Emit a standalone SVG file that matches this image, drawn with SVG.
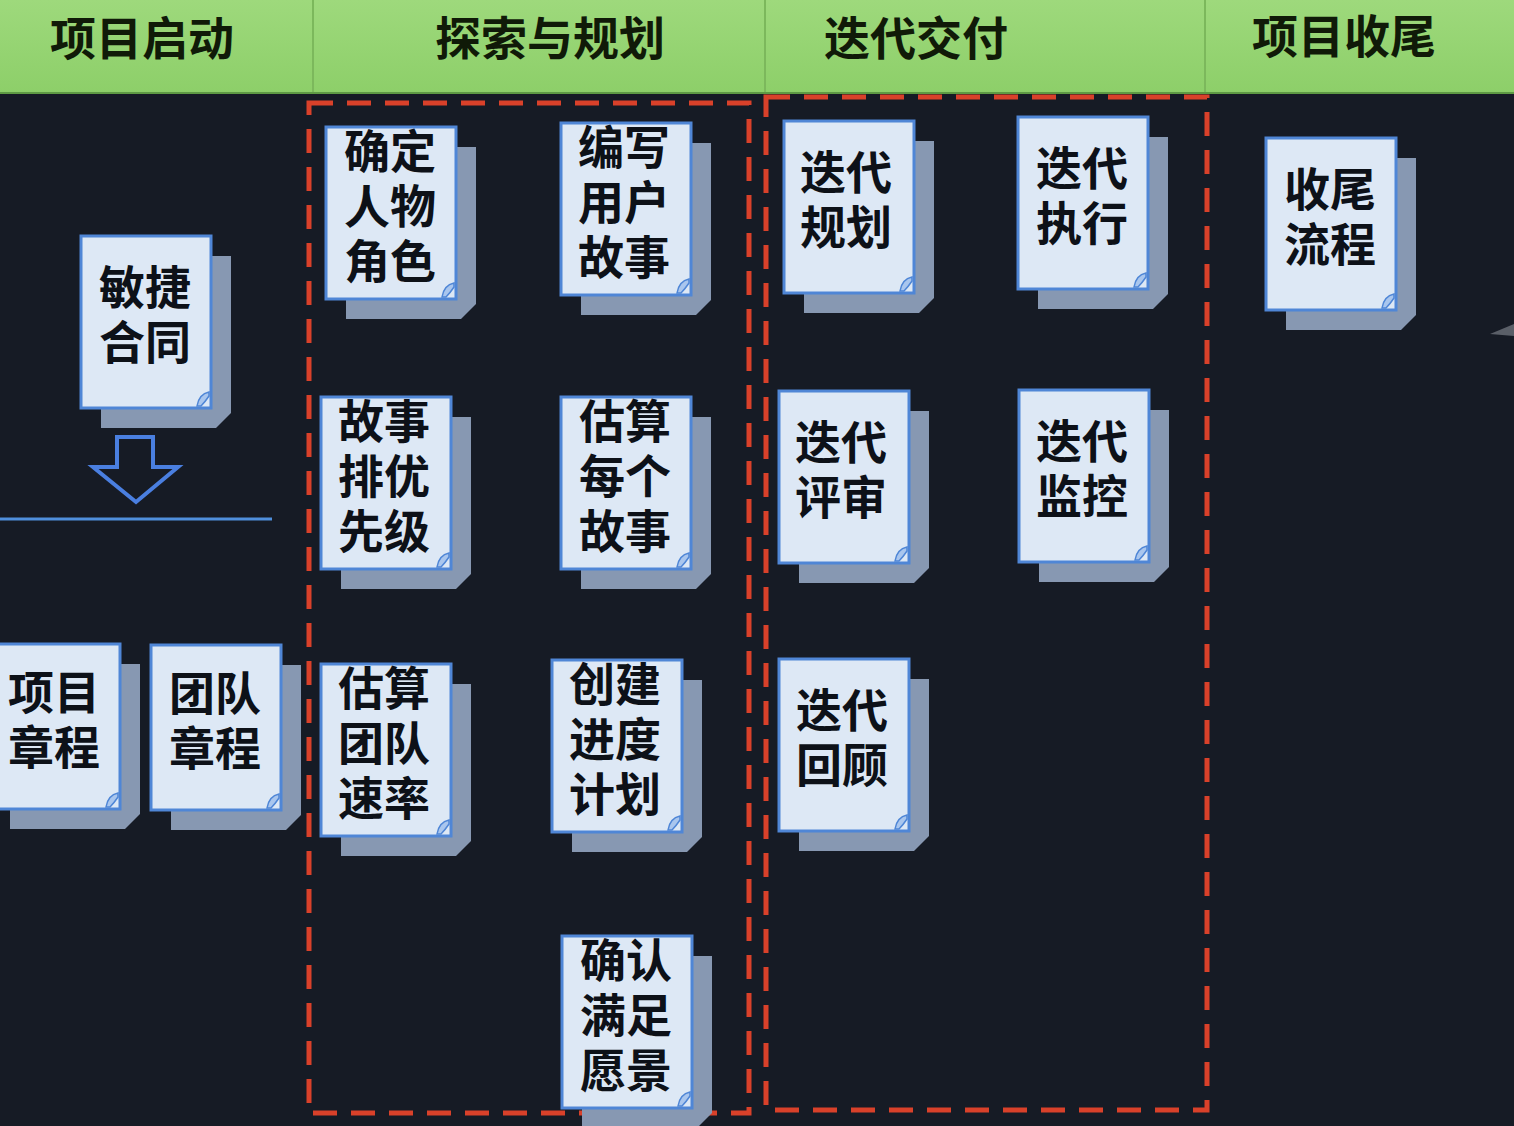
<svg xmlns="http://www.w3.org/2000/svg" xmlns:xlink="http://www.w3.org/1999/xlink" width="1514" height="1126" viewBox="0 0 1514 1126">
<style>
.hdr{font-family:"Noto Sans CJK SC","Noto Sans",sans-serif;font-weight:700;font-size:46px;fill:#101a08;text-anchor:middle}
.t{font-family:"Noto Sans CJK SC","Noto Sans",sans-serif;font-weight:700;font-size:46px;fill:#0d1118;text-anchor:middle}
.dash{fill:none;stroke:#d9412a;stroke-width:5;stroke-dasharray:24 14}
.div{stroke:#7cb85c;stroke-width:2}
</style>
<defs>
<linearGradient id="hg" x1="0" y1="0" x2="0" y2="1">
<stop offset="0" stop-color="#9ed97c"/>
<stop offset="1" stop-color="#8dcf69"/>
</linearGradient>
<g id="card">
<path d="M20 20H150V177L135 192H20Z" fill="#8798b2"/>
<rect x="0" y="0" width="130" height="172" fill="#dde8f5" stroke="#4f86d6" stroke-width="3"/>
<path d="M116 170Q118 158 128 156L128 160Q124 166 120 170Z" fill="#a9c6ee" stroke="#4f86d6" stroke-width="1.5"/>
</g>
<g id="card2">
<path d="M20 20H150V170L135 185H20Z" fill="#8798b2"/>
<rect x="0" y="0" width="130" height="165" fill="#dde8f5" stroke="#4f86d6" stroke-width="3"/>
<path d="M116 163Q118 151 128 149L128 153Q124 159 120 163Z" fill="#a9c6ee" stroke="#4f86d6" stroke-width="1.5"/>
</g>
</defs>
<rect width="1514" height="1126" fill="#161b25"/>
<g id="header">
<rect x="0" y="0" width="1514" height="93" fill="url(#hg)"/>
<line x1="0" y1="93" x2="1514" y2="93" stroke="#5e9a44" stroke-width="2"/>
<line class="div" x1="313" y1="0" x2="313" y2="92"/>
<line class="div" x1="765" y1="0" x2="765" y2="92"/>
<line class="div" x1="1205" y1="0" x2="1205" y2="92"/>
<text class="hdr" x="142" y="55">项目启动</text>
<text class="hdr" x="550" y="55">探索与规划</text>
<text class="hdr" x="916" y="55">迭代交付</text>
<text class="hdr" x="1344" y="53">项目收尾</text>
</g>
<g id="connectors">
<path d="M117 437H153V467H178L136 502L93 467H117Z" fill="none" stroke="#4a7fe0" stroke-width="4" stroke-linejoin="miter"/>
<line x1="0" y1="519" x2="272" y2="519" stroke="#4f8fdc" stroke-width="3"/>
<rect class="dash" x="309" y="103" width="440" height="1010"/>
<rect class="dash" x="766" y="97" width="441" height="1013"/>
<path d="M1490 334L1514 324V336Z" fill="#5a5f68"/>
</g>
<g id="n-mjht"><use xlink:href="#card" x="81" y="236"/><text class="t" x="145" y="304">敏捷<tspan x="145" dy="55">合同</tspan></text></g>
<g id="n-xmzc"><use xlink:href="#card2" x="-10" y="644"/><text class="t" x="54" y="709">项目<tspan x="54" dy="55">章程</tspan></text></g>
<g id="n-tdzc"><use xlink:href="#card2" x="151" y="645"/><text class="t" x="215" y="710">团队<tspan x="215" dy="55">章程</tspan></text></g>
<g id="n-qdrw"><use xlink:href="#card" x="326" y="127"/><text class="t" x="390" y="168">确定<tspan x="390" dy="55">人物</tspan><tspan x="390" dy="55">角色</tspan></text></g>
<g id="n-bxgs"><use xlink:href="#card" x="561" y="123"/><text class="t" x="624" y="164">编写<tspan x="624" dy="55">用户</tspan><tspan x="624" dy="55">故事</tspan></text></g>
<g id="n-gspy"><use xlink:href="#card" x="321" y="397"/><text class="t" x="384" y="438">故事<tspan x="384" dy="55">排优</tspan><tspan x="384" dy="55">先级</tspan></text></g>
<g id="n-gsmg"><use xlink:href="#card" x="561" y="397"/><text class="t" x="625" y="438">估算<tspan x="625" dy="55">每个</tspan><tspan x="625" dy="55">故事</tspan></text></g>
<g id="n-gstd"><use xlink:href="#card" x="321" y="664"/><text class="t" x="384" y="705">估算<tspan x="384" dy="55">团队</tspan><tspan x="384" dy="55">速率</tspan></text></g>
<g id="n-cjjd"><use xlink:href="#card" x="552" y="660"/><text class="t" x="615" y="701">创建<tspan x="615" dy="55">进度</tspan><tspan x="615" dy="55">计划</tspan></text></g>
<g id="n-qrmz"><use xlink:href="#card" x="562" y="936"/><text class="t" x="626" y="977">确认<tspan x="626" dy="55">满足</tspan><tspan x="626" dy="55">愿景</tspan></text></g>
<g id="n-ddgh"><use xlink:href="#card" x="784" y="121"/><text class="t" x="846" y="189">迭代<tspan x="846" dy="55">规划</tspan></text></g>
<g id="n-ddzx"><use xlink:href="#card" x="1018" y="117"/><text class="t" x="1082" y="185">迭代<tspan x="1082" dy="55">执行</tspan></text></g>
<g id="n-ddps"><use xlink:href="#card" x="779" y="391"/><text class="t" x="841" y="459">迭代<tspan x="841" dy="55">评审</tspan></text></g>
<g id="n-ddjk"><use xlink:href="#card" x="1019" y="390"/><text class="t" x="1082" y="458">迭代<tspan x="1082" dy="55">监控</tspan></text></g>
<g id="n-ddhg"><use xlink:href="#card" x="779" y="659"/><text class="t" x="842" y="727">迭代<tspan x="842" dy="55">回顾</tspan></text></g>
<g id="n-swlc"><use xlink:href="#card" x="1266" y="138"/><text class="t" x="1330" y="206">收尾<tspan x="1330" dy="55">流程</tspan></text></g>
</svg>
